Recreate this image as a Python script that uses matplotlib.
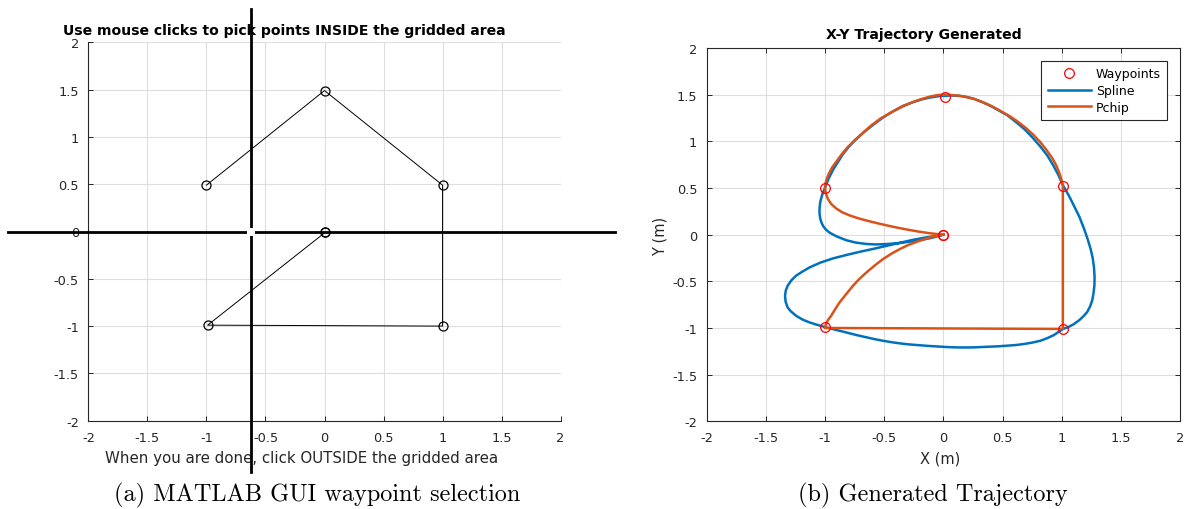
import matplotlib
matplotlib.use("Agg")
import matplotlib.pyplot as plt
from matplotlib.ticker import FuncFormatter

plt.rcParams["font.family"] = ["DejaVu Sans"]
plt.rcParams["axes.unicode_minus"] = False

# ---- waypoints picked in the GUI (left panel) ----
gui_x = [0.00, -1.00, 0.00, 1.00, 1.00, -0.99, 0.005]
gui_y = [0.00, 0.49, 1.49, 0.49, -1.00, -0.99, -0.01]
cursor_x = -0.62   # crosshair position
cursor_y = 0.0

# ---- waypoints and generated trajectories (right panel) ----
wp_x = [0.00, -1.00, 0.01, 1.01, 1.01, -1.00, 0.00]
wp_y = [0.00, 0.50, 1.48, 0.52, -1.01, -0.99, 0.00]

spline_x = [0.00, -0.10, -0.23, -0.37, -0.47, -0.57, -0.65, -0.74, -0.82, -0.86,
            -0.90, -0.93, -0.96, -0.98, -1.00, -1.017, -1.03, -1.04, -1.045, -1.047,
            -1.045, -1.04, -1.03, -1.018, -1.00,
            -0.985, -0.97, -0.95, -0.93, -0.89, -0.85, -0.80, -0.74, -0.67, -0.59,
            -0.51, -0.42, -0.34, -0.255, -0.18, -0.11, -0.05, 0.00, 0.05, 0.10,
            0.15, 0.20, 0.255, 0.33, 0.40, 0.47, 0.54, 0.61, 0.68, 0.75, 0.82,
            0.88, 0.93, 0.97, 1.00, 1.013,
            1.06, 1.104, 1.15, 1.19, 1.22, 1.245, 1.262, 1.273, 1.278, 1.277,
            1.27, 1.259, 1.24, 1.215, 1.188, 1.15, 1.104, 1.06, 1.013,
            0.97, 0.934, 0.88, 0.82, 0.75, 0.68, 0.61, 0.54, 0.47, 0.40, 0.33,
            0.255, 0.18, 0.11, 0.04, -0.03, -0.13, -0.226, -0.30, -0.368, -0.44,
            -0.51, -0.58, -0.65, -0.72, -0.79, -0.86, -0.934, -1.00,
            -1.07, -1.132, -1.19, -1.245, -1.29, -1.316, -1.333, -1.338, -1.332,
            -1.316, -1.285, -1.245, -1.19, -1.132, -1.04, -0.934, -0.82, -0.707,
            -0.59, -0.481, -0.37, -0.255, -0.16, -0.085, 0.00]
spline_y = [0.00, -0.035, -0.066, -0.09, -0.10, -0.105, -0.10, -0.085, -0.06, -0.04,
            -0.02, 0.00, 0.02, 0.04, 0.065, 0.095, 0.13, 0.17, 0.21, 0.25,
            0.30, 0.35, 0.40, 0.45, 0.50,
            0.55, 0.60, 0.65, 0.70, 0.78, 0.86, 0.94, 1.02, 1.10, 1.18,
            1.255, 1.326, 1.38, 1.42, 1.45, 1.47, 1.482, 1.487, 1.49, 1.49,
            1.485, 1.475, 1.457, 1.42, 1.379, 1.33, 1.28, 1.21, 1.137, 1.045, 0.944,
            0.845, 0.74, 0.645, 0.56, 0.523,
            0.42, 0.309, 0.19, 0.06, -0.05, -0.155, -0.25, -0.35, -0.45, -0.54,
            -0.62, -0.70, -0.77, -0.83, -0.869, -0.915, -0.958, -0.988, -1.01,
            -1.045, -1.076, -1.108, -1.137, -1.157, -1.172, -1.183, -1.19, -1.196, -1.20, -1.205,
            -1.208, -1.209, -1.208, -1.205, -1.20, -1.192, -1.183, -1.175, -1.165, -1.152,
            -1.137, -1.12, -1.10, -1.08, -1.058, -1.035, -1.012, -0.99,
            -0.965, -0.94, -0.91, -0.869, -0.82, -0.78, -0.72, -0.655, -0.60,
            -0.548, -0.49, -0.44, -0.395, -0.352, -0.30, -0.255, -0.218, -0.184,
            -0.152, -0.12, -0.088, -0.055, -0.033, -0.018, 0.00]

pchip_x = [0.00, -0.05, -0.12, -0.21, -0.30, -0.39, -0.47, -0.55, -0.63, -0.71,
           -0.79, -0.855, -0.905, -0.945, -0.975, -0.993, -1.00,
           -0.996, -0.985, -0.965, -0.94, -0.90, -0.86, -0.81, -0.75, -0.68, -0.61,
           -0.53, -0.44, -0.35, -0.26, -0.18, -0.11, -0.05, 0.00,
           0.06, 0.13, 0.20, 0.27, 0.35, 0.42, 0.49, 0.56, 0.63, 0.70, 0.76, 0.82,
           0.87, 0.92, 0.955, 0.98, 0.998, 1.01,
           1.01, -1.00,
           -0.993, -0.975, -0.948, -0.915, -0.877, -0.82, -0.764, -0.71, -0.65,
           -0.58, -0.51, -0.44, -0.368, -0.30, -0.226, -0.15, -0.085, 0.00]
pchip_y = [0.00, 0.006, 0.016, 0.033, 0.053, 0.075, 0.097, 0.12, 0.145, 0.172,
           0.205, 0.24, 0.28, 0.325, 0.38, 0.44, 0.50,
           0.55, 0.60, 0.66, 0.72, 0.79, 0.86, 0.935, 1.01, 1.09, 1.17,
           1.245, 1.31, 1.37, 1.42, 1.455, 1.48, 1.495, 1.50,
           1.497, 1.49, 1.472, 1.45, 1.41, 1.37, 1.32, 1.27, 1.21, 1.14, 1.07, 0.99,
           0.91, 0.82, 0.74, 0.66, 0.59, 0.52,
           -1.01, -1.00,
           -0.96, -0.915, -0.869, -0.80, -0.726, -0.635, -0.548, -0.475, -0.405,
           -0.33, -0.262, -0.205, -0.155, -0.113, -0.077, -0.045, -0.02, 0.00]

ticks = [-2, -1.5, -1, -0.5, 0, 0.5, 1, 1.5, 2]

W, H = 1187, 510
fig = plt.figure(figsize=(W / 100, H / 100), dpi=100)
fig.patch.set_facecolor("white")

DARK = "#262626"
GRID = "#dedede"
BLUE = "#0072BD"
ORANGE = "#D95319"
fmt = FuncFormatter(lambda v, p: "%g" % v)


def px_axes(x0, x1, ytop, ybot):
    return fig.add_axes([x0 / W, 1 - ybot / H, (x1 - x0) / W, (ybot - ytop) / H])


def style(ax, box):
    ax.set_xlim(-2, 2)
    ax.set_ylim(-2, 2)
    ax.set_xticks(ticks)
    ax.set_yticks(ticks)
    ax.xaxis.set_major_formatter(fmt)
    ax.yaxis.set_major_formatter(fmt)
    ax.grid(True, color=GRID, linewidth=0.8)
    ax.set_axisbelow(True)
    for s in ax.spines.values():
        s.set_color(DARK)
        s.set_linewidth(0.8)
    if not box:
        ax.spines["top"].set_visible(False)
        ax.spines["right"].set_visible(False)
    ax.tick_params(direction="in", length=3.5, width=0.7, color=DARK,
                   labelcolor=DARK, labelsize=9.3, top=box, right=box)
    ax.tick_params(axis="x", pad=7.3)
    ax.tick_params(axis="y", pad=6.8)


# ---------------- left: GUI waypoint selection ----------------
axL = px_axes(88.4, 560.6, 43.3, 421.7)
style(axL, box=False)
axL.plot(gui_x[1:], gui_y[1:], color="black", linewidth=0.7, zorder=3)
axL.plot(gui_x, gui_y, linestyle="none", marker="o", markersize=6.5,
         markerfacecolor="none", markeredgecolor="black", markeredgewidth=0.9, zorder=4)
axL.text(0.4143, 1.022, "Use mouse clicks to pick points INSIDE the gridded area",
         transform=axL.transAxes, ha="center", va="baseline",
         fontsize=10.1, fontweight="bold", color="black", zorder=3)
axL.text(0.452, -0.11, "When you are done, click OUTSIDE the gridded area",
         transform=axL.transAxes, ha="center", va="baseline",
         fontsize=10.8, color=DARK, zorder=3)
# crosshair cursor
axL.axvline(cursor_x, ymin=-0.1356, ymax=1.088, color="black", linewidth=2.0,
            clip_on=False, zorder=10)
axL.axhline(cursor_y, xmin=-0.171, xmax=1.115, color="black", linewidth=2.0,
            clip_on=False, zorder=10)
axL.plot([cursor_x], [cursor_y], marker="s", markersize=5.2, color="white",
         markeredgewidth=0, clip_on=False, zorder=11)

# ---------------- right: generated trajectory ----------------
axR = px_axes(706.7, 1180, 49, 422.3)
style(axR, box=True)
axR.plot(wp_x, wp_y, linestyle="none", marker="o", markersize=7,
         markerfacecolor="none", markeredgecolor="#FF0000", markeredgewidth=0.9,
         label="Waypoints", zorder=5)
axR.plot(spline_x, spline_y, color=BLUE, linewidth=1.8, label="Spline", zorder=3,
         solid_joinstyle="round")
axR.plot(pchip_x, pchip_y, color=ORANGE, linewidth=1.8, label="Pchip", zorder=4,
         solid_joinstyle="round")
axR.text(0.4597, 1.026, "X-Y Trajectory Generated", transform=axR.transAxes,
         ha="center", va="baseline", fontsize=10.1, fontweight="bold", color="black")
axR.text(0.493, -0.11, "X (m)", transform=axR.transAxes, ha="center",
         va="baseline", fontsize=10.5, color=DARK)
axR.text(-0.0987, 0.499, "Y (m)", transform=axR.transAxes, ha="center",
         va="center", rotation=90, fontsize=10.5, color=DARK)
leg = axR.legend(loc="upper right", bbox_to_anchor=(0.9725, 0.965),
                 borderaxespad=0, fontsize=9, handlelength=3.5,
                 handletextpad=0.35, labelspacing=0.3, borderpad=0.5,
                 fancybox=False, framealpha=1, edgecolor=DARK)
leg.get_frame().set_linewidth(0.8)

# ---------------- captions ----------------
fig.text(317.5 / W, 1 - 501.7 / H, "(a) MATLAB GUI waypoint selection",
         ha="center", va="baseline", fontsize=17.5, family="cmr10")
fig.text(933 / W, 1 - 501.7 / H, "(b) Generated Trajectory",
         ha="center", va="baseline", fontsize=17.5, family="cmr10")

fig.savefig("out.png", dpi=100)
